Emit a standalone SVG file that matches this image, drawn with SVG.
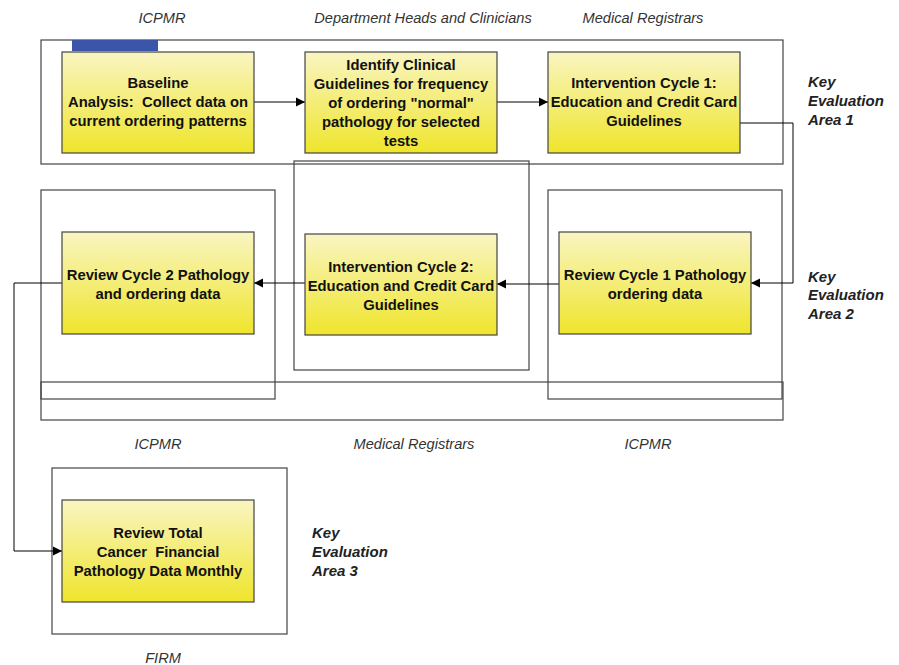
<svg xmlns="http://www.w3.org/2000/svg" width="899" height="665" viewBox="0 0 899 665">
<defs>
<linearGradient id="yel" x1="0" y1="0" x2="0" y2="1">
<stop offset="0" stop-color="#f9f5c2"/>
<stop offset="1" stop-color="#efe52c"/>
</linearGradient>
<marker id="arr" markerWidth="10" markerHeight="10" refX="9" refY="5" orient="auto" markerUnits="userSpaceOnUse">
<path d="M0,0.5 L9,5 L0,9.5 Z" fill="#000"/>
</marker>
</defs>
<style>
.frame{fill:none;stroke:#444;stroke-width:1.2}
.node{fill:url(#yel);stroke:#444;stroke-width:1.2}
.nt{font-family:"Liberation Sans",Arial,sans-serif;font-size:14.8px;font-weight:bold;fill:#111;text-anchor:middle;white-space:pre}
.lbl{font-family:"Liberation Sans",Arial,sans-serif;font-size:14.6px;font-style:italic;fill:#333;text-anchor:middle}
.key{font-family:"Liberation Sans",Arial,sans-serif;font-size:15px;font-style:italic;font-weight:bold;fill:#222}
.conn{fill:none;stroke:#000;stroke-width:1}
</style>
<rect width="899" height="665" fill="#fff"/>

<g id="frames">
<rect class="frame" x="41" y="40" width="742" height="124"/>
<rect x="72" y="40" width="86" height="11" fill="#3b55a8"/>
<rect class="frame" x="41" y="190" width="234" height="209"/>
<rect class="frame" x="294" y="161" width="235" height="209"/>
<rect class="frame" x="548" y="190" width="234" height="209"/>
<rect class="frame" x="41" y="382" width="742" height="38"/>
<rect class="frame" x="52" y="468" width="235" height="166"/>
</g>

<g id="labels">
<text class="lbl" x="162" y="23">ICPMR</text>
<text class="lbl" x="423" y="23">Department Heads and Clinicians</text>
<text class="lbl" x="643" y="23">Medical Registrars</text>
<text class="lbl" x="158" y="449">ICPMR</text>
<text class="lbl" x="414" y="449">Medical Registrars</text>
<text class="lbl" x="648" y="449">ICPMR</text>
<text class="lbl" x="163" y="663">FIRM</text>
<text class="key" x="808"><tspan x="808" y="87">Key</tspan><tspan x="808" y="106">Evaluation</tspan><tspan x="808" y="125">Area 1</tspan></text>
<text class="key" x="808"><tspan x="808" y="282">Key</tspan><tspan x="808" y="300">Evaluation</tspan><tspan x="808" y="319">Area 2</tspan></text>
<text class="key" x="312"><tspan x="312" y="538">Key</tspan><tspan x="312" y="557">Evaluation</tspan><tspan x="312" y="576">Area 3</tspan></text>
</g>

<g id="connectors">
<line class="conn" x1="254" y1="102" x2="305" y2="102" marker-end="url(#arr)"/>
<line class="conn" x1="497" y1="102" x2="548" y2="102" marker-end="url(#arr)"/>
<polyline class="conn" points="740,123 793,123 793,283 751,283" marker-end="url(#arr)"/>
<line class="conn" x1="559" y1="284" x2="497" y2="284" marker-end="url(#arr)"/>
<line class="conn" x1="305" y1="283" x2="254" y2="283" marker-end="url(#arr)"/>
<polyline class="conn" points="62,283 14,283 14,551 62,551" marker-end="url(#arr)"/>
</g>

<g id="node-baseline">
<rect class="node" x="62" y="52" width="192" height="101"/>
<text class="nt" xml:space="preserve"><tspan x="158" y="88">Baseline</tspan><tspan x="158" y="107">Analysis:  Collect data on</tspan><tspan x="158" y="126">current ordering patterns</tspan></text>
</g>
<g id="node-guidelines">
<rect class="node" x="305" y="52" width="192" height="101"/>
<text class="nt"><tspan x="401" y="70">Identify Clinical</tspan><tspan x="401" y="89">Guidelines for frequency</tspan><tspan x="401" y="108">of ordering "normal"</tspan><tspan x="401" y="127">pathology for selected</tspan><tspan x="401" y="146">tests</tspan></text>
</g>
<g id="node-intervention1">
<rect class="node" x="548" y="52" width="192" height="101"/>
<text class="nt"><tspan x="644" y="88">Intervention Cycle 1:</tspan><tspan x="644" y="107">Education and Credit Card</tspan><tspan x="644" y="126">Guidelines</tspan></text>
</g>
<g id="node-review1">
<rect class="node" x="559" y="232" width="192" height="102"/>
<text class="nt"><tspan x="655" y="280">Review Cycle 1 Pathology</tspan><tspan x="655" y="299">ordering data</tspan></text>
</g>
<g id="node-intervention2">
<rect class="node" x="305" y="234" width="192" height="101"/>
<text class="nt"><tspan x="401" y="272">Intervention Cycle 2:</tspan><tspan x="401" y="291">Education and Credit Card</tspan><tspan x="401" y="310">Guidelines</tspan></text>
</g>
<g id="node-review2">
<rect class="node" x="62" y="232" width="192" height="102"/>
<text class="nt"><tspan x="158" y="280">Review Cycle 2 Pathology</tspan><tspan x="158" y="299">and ordering data</tspan></text>
</g>
<g id="node-total">
<rect class="node" x="62" y="500" width="192" height="102"/>
<text class="nt" xml:space="preserve"><tspan x="158" y="538">Review Total</tspan><tspan x="158" y="557">Cancer  Financial</tspan><tspan x="158" y="576">Pathology Data Monthly</tspan></text>
</g>
</svg>
